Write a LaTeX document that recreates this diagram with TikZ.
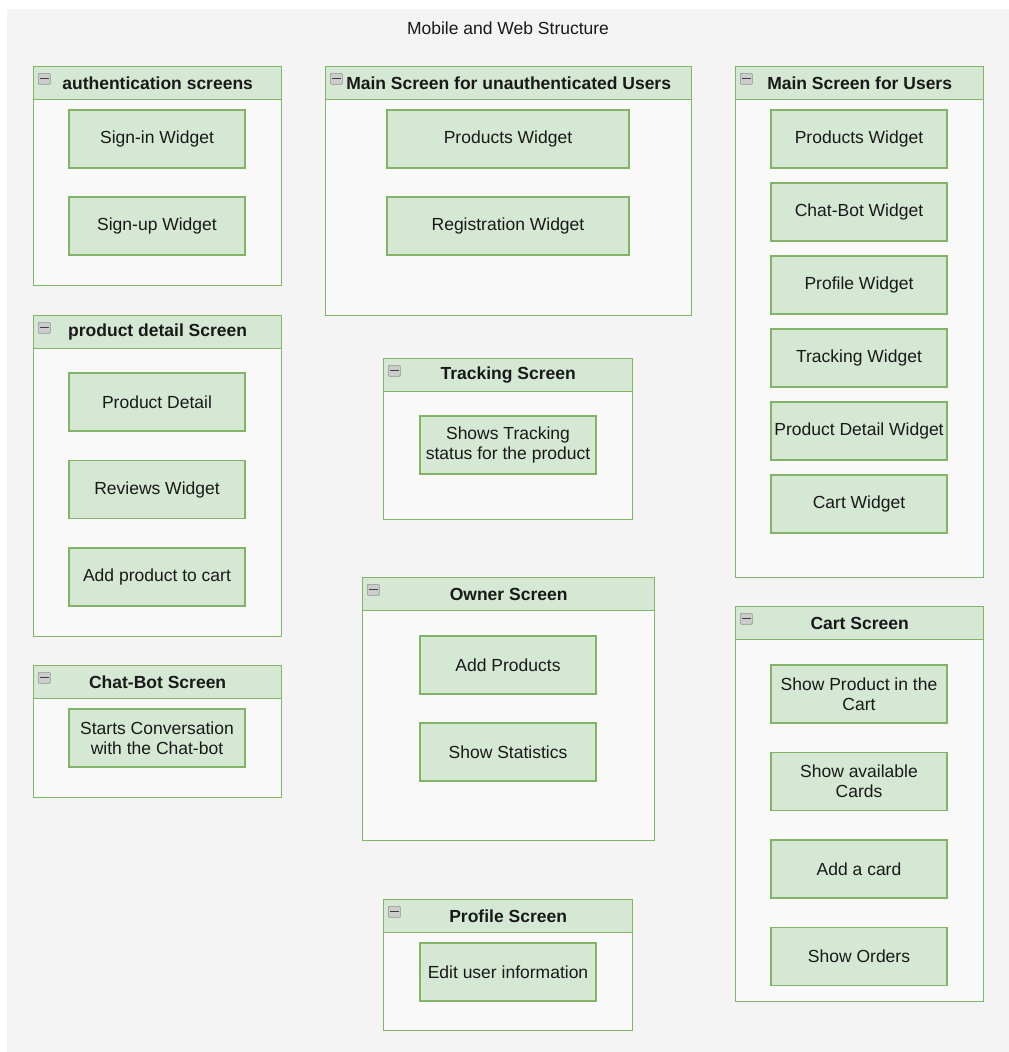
\documentclass[tikz,border=0pt]{standalone}
\usepackage{fontspec}
\setmainfont{Liberation Sans}
\usetikzlibrary{positioning}

\definecolor{boxgreen}{HTML}{D5E8D4}
\definecolor{linegreen}{HTML}{82B366}
\definecolor{pagegray}{HTML}{F4F4F4}
\definecolor{innergray}{HTML}{F9F9F9}

% container: name, x, y, width, height, title
\newcommand{\screenbox}[6]{%
  \node[screenbody, minimum width=#4pt, minimum height=#5pt] (#1) at (#2,#3) {};
  \node[screenhead, minimum width=#4pt] (#1-h) at (#1.north) {#6};
  \node[iconbox] (#1-i) at ([xshift=5pt,yshift=-7pt]#1-h.north west) {};
  \draw[line width=1.2pt, black!75] ([xshift=2pt]#1-i.west) -- ([xshift=-2pt]#1-i.east);
}

\begin{document}
\begin{tikzpicture}[x=1pt, y=-1pt,
  screenbody/.style={draw=linegreen, fill=innergray, line width=1.3pt, inner sep=0pt, anchor=north west},
  screenhead/.style={draw=linegreen, fill=boxgreen, line width=1.3pt, inner sep=0pt, minimum height=33pt,
    anchor=north, text=black!90, font=\fontsize{17.5}{20}\selectfont\bfseries},
  iconbox/.style={draw=gray!85, fill=gray!40, rounded corners=1pt, line width=0.6pt,
    minimum width=12pt, minimum height=11pt, inner sep=0pt, anchor=north west},
  widget/.style={draw=linegreen, fill=boxgreen, line width=1.3pt, minimum width=176pt, minimum height=58pt,
    inner sep=0pt, outer sep=0pt, align=center, text=black!90, font=\fontsize{17.5}{20}\selectfont},
  ]
  \useasboundingbox (0,0) rectangle (1009,1052);
  \fill[white] (0,0) rectangle (1009,1052);
  \fill[pagegray] (7,9) rectangle (1009,1052);
  \node[text=black!90, font=\fontsize{17.5}{20}\selectfont] (title) at (508,28) {Mobile and Web Structure};

  % left column
  \screenbox{auth}{33}{66}{248}{219}{authentication screens}
  \node[widget, anchor=north west] (signin) at (69,110) {Sign-in Widget};
  \node[widget, below=29pt of signin] (signup) {Sign-up Widget};

  \screenbox{detail}{33}{315}{248}{321}{product detail Screen}
  \node[widget, anchor=north west] (pdetail) at (69,373) {Product Detail};
  \node[widget, below=29.5pt of pdetail] (reviews) {Reviews Widget};
  \node[widget, below=29.5pt of reviews] (addcart) {Add product to cart};

  \screenbox{chat}{33}{665}{248}{132}{Chat-Bot Screen}
  \node[widget, anchor=north west] (conv) at (69,709) {Starts Conversation\\with the Chat-bot};

  % middle column
  \screenbox{guest}{325}{66}{366}{249}{Main Screen for unauthenticated Users}
  \node[widget, minimum width=242pt, anchor=north west] (gproducts) at (387,110) {Products Widget};
  \node[widget, minimum width=242pt, below=29pt of gproducts] (register) {Registration Widget};

  \screenbox{track}{383}{358}{249}{161}{Tracking Screen}
  \node[widget, anchor=north west] (status) at (420,416) {Shows Tracking\\status for the product};

  \screenbox{owner}{362}{577}{292}{263}{Owner Screen}
  \node[widget, anchor=north west] (addprod) at (420,636) {Add Products};
  \node[widget, below=29pt of addprod] (stats) {Show Statistics};

  \screenbox{profile}{383}{899}{249}{131}{Profile Screen}
  \node[widget, anchor=north west] (edituser) at (420,943) {Edit user information};

  % right column
  \screenbox{users}{735}{66}{248}{511}{Main Screen for Users}
  \node[widget, anchor=north west] (uproducts) at (771,110) {Products Widget};
  \node[widget, below=15pt of uproducts] (uchat) {Chat-Bot Widget};
  \node[widget, below=15pt of uchat] (uprofile) {Profile Widget};
  \node[widget, below=15pt of uprofile] (utrack) {Tracking Widget};
  \node[widget, below=15pt of utrack] (udetail) {Product Detail Widget};
  \node[widget, below=15pt of udetail] (ucart) {Cart Widget};

  \screenbox{cart}{735}{606}{248}{395}{Cart Screen}
  \node[widget, anchor=north west] (incart) at (771,665) {Show Product in the\\Cart};
  \node[widget, below=29.5pt of incart] (cards) {Show available\\Cards};
  \node[widget, below=29.5pt of cards] (addcard) {Add a card};
  \node[widget, below=29.5pt of addcard] (orders) {Show Orders};
\end{tikzpicture}
\end{document}
